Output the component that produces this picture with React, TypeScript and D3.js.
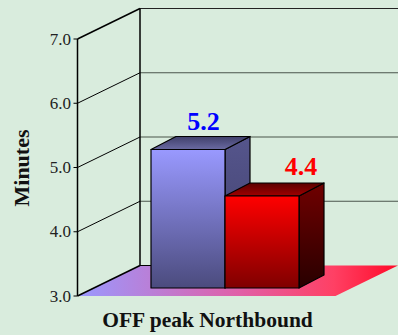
import React from "react";
import * as d3 from "d3";

const ticks = [3, 4, 5, 6, 7];
const categories = ["Series A", "Series B"];
const values = [5.2, 4.4];
const labels = ["5.2", "4.4"];
const labelColors = ["#0000ff", "#ff0000"];
const faces = [
  { front: ["#9999ff", "#4b4b7d"], side: ["#55558c", "#3f3f6a"], top: ["#3f3f6a", "#6a6aa2"] },
  { front: ["#ff0000", "#7f0000"], side: ["#700000", "#280000"], top: ["#5a0000", "#a00000"] },
];

const W = 398, H = 335;
const y = d3.scaleLinear().domain([3, 7]).range([296, 39]);
const barY = d3.scaleLinear().domain([4.4, 5.2]).range([196, 149.5]);
const x0 = 77.5, dx = 62.5, dy = -30.5;
const floorW = 258;
const barX = d3.scaleBand().domain(categories).range([151, 299]).padding(0);
const base = 288, bdx = 25, bdy = -13;
const labelShift = [3, 26.5];
const labelRise = [7, 8];

export default function App() {
  const bw = barX.bandwidth();
  return (
    <svg width={W} height={H} style={{ position: "absolute", left: 0, top: 0, background: "#d9ecdd" }}
      fontFamily="'Liberation Serif', serif">
      <defs>
        <linearGradient id="floor" gradientUnits="userSpaceOnUse" x1={x0} x2={x0 + dx + floorW} y1={0} y2={0}>
          <stop offset="0" stopColor="#9999ff" />
          <stop offset="0.5" stopColor="#e060a8" />
          <stop offset="0.8" stopColor="#ff4064" />
          <stop offset="1" stopColor="#ff0a28" />
        </linearGradient>
        {faces.map((f, i) =>
          (["front", "side", "top"] as const).map((k) => (
            <linearGradient key={k} id={`${k}${i}`} x1="0" x2="0" y1="0" y2="1">
              <stop offset="0" stopColor={f[k][0]} />
              <stop offset="1" stopColor={f[k][1]} />
            </linearGradient>
          ))
        )}
      </defs>
      <polygon
        points={`${x0},${y(3)} ${x0 + dx},${y(3) + dy} ${x0 + dx + floorW},${y(3) + dy} ${x0 + floorW},${y(3)}`}
        fill="url(#floor)"
      />
      {ticks.map((t) => (
        <g key={t}>
          {t !== 3 && <line x1={x0 + dx} x2={W} y1={y(t) + dy} y2={y(t) + dy} stroke="#4a554b" strokeWidth={1.2} />}
          <line x1={x0} x2={x0 + dx} y1={y(t)} y2={y(t) + dy} stroke="#000" strokeWidth={t === 3 || t === 7 ? 1.5 : 1} />
          <line x1={x0 - 4} x2={x0} y1={y(t)} y2={y(t)} stroke="#000" />
          <text x={71} y={y(t) + 5.5} textAnchor="end" fontSize={17} fill="#222">{t.toFixed(1)}</text>
        </g>
      ))}
      <line x1={140} x2={W} y1={8.5} y2={8.5} stroke="#222" strokeWidth={1.2} />
      <line x1={x0} x2={x0} y1={y(7)} y2={y(3)} stroke="#000" strokeWidth={1.5} />
      <line x1={x0 + dx} x2={x0 + dx} y1={y(7) + dy} y2={y(3) + dy} stroke="#000" strokeWidth={1.5} />
      <line x1={x0 + dx} x2={151} y1={y(3) + dy} y2={y(3) + dy} stroke="#000" strokeWidth={1} />
      {categories.map((c, i) => {
        const x = barX(c)!;
        const t = barY(values[i]);
        return (
          <g key={c} stroke="#000" strokeWidth={1.2} strokeLinejoin="round">
            <polygon points={`${x + bw},${t} ${x + bw + bdx},${t + bdy} ${x + bw + bdx},${base + bdy} ${x + bw},${base}`} fill={`url(#side${i})`} />
            <polygon points={`${x},${t} ${x + bdx},${t + bdy} ${x + bw + bdx},${t + bdy} ${x + bw},${t}`} fill={`url(#top${i})`} />
            <rect x={x} y={t} width={bw} height={base - t} fill={`url(#front${i})`} />
            <text x={x + bw / 2 + bdx / 2 + labelShift[i]} y={t + bdy - labelRise[i]} textAnchor="middle" fontSize={26} fontWeight="bold" fill={labelColors[i]} stroke="none">{labels[i]}</text>
          </g>
        );
      })}
      <text transform="translate(29,168) rotate(-90)" textAnchor="middle" fontSize={22} fontWeight="bold" fill="#111">Minutes</text>
      <text x={207.5} y={327} textAnchor="middle" fontSize={21.5} fontWeight="bold" fill="#111">OFF peak Northbound</text>
    </svg>
  );
}
